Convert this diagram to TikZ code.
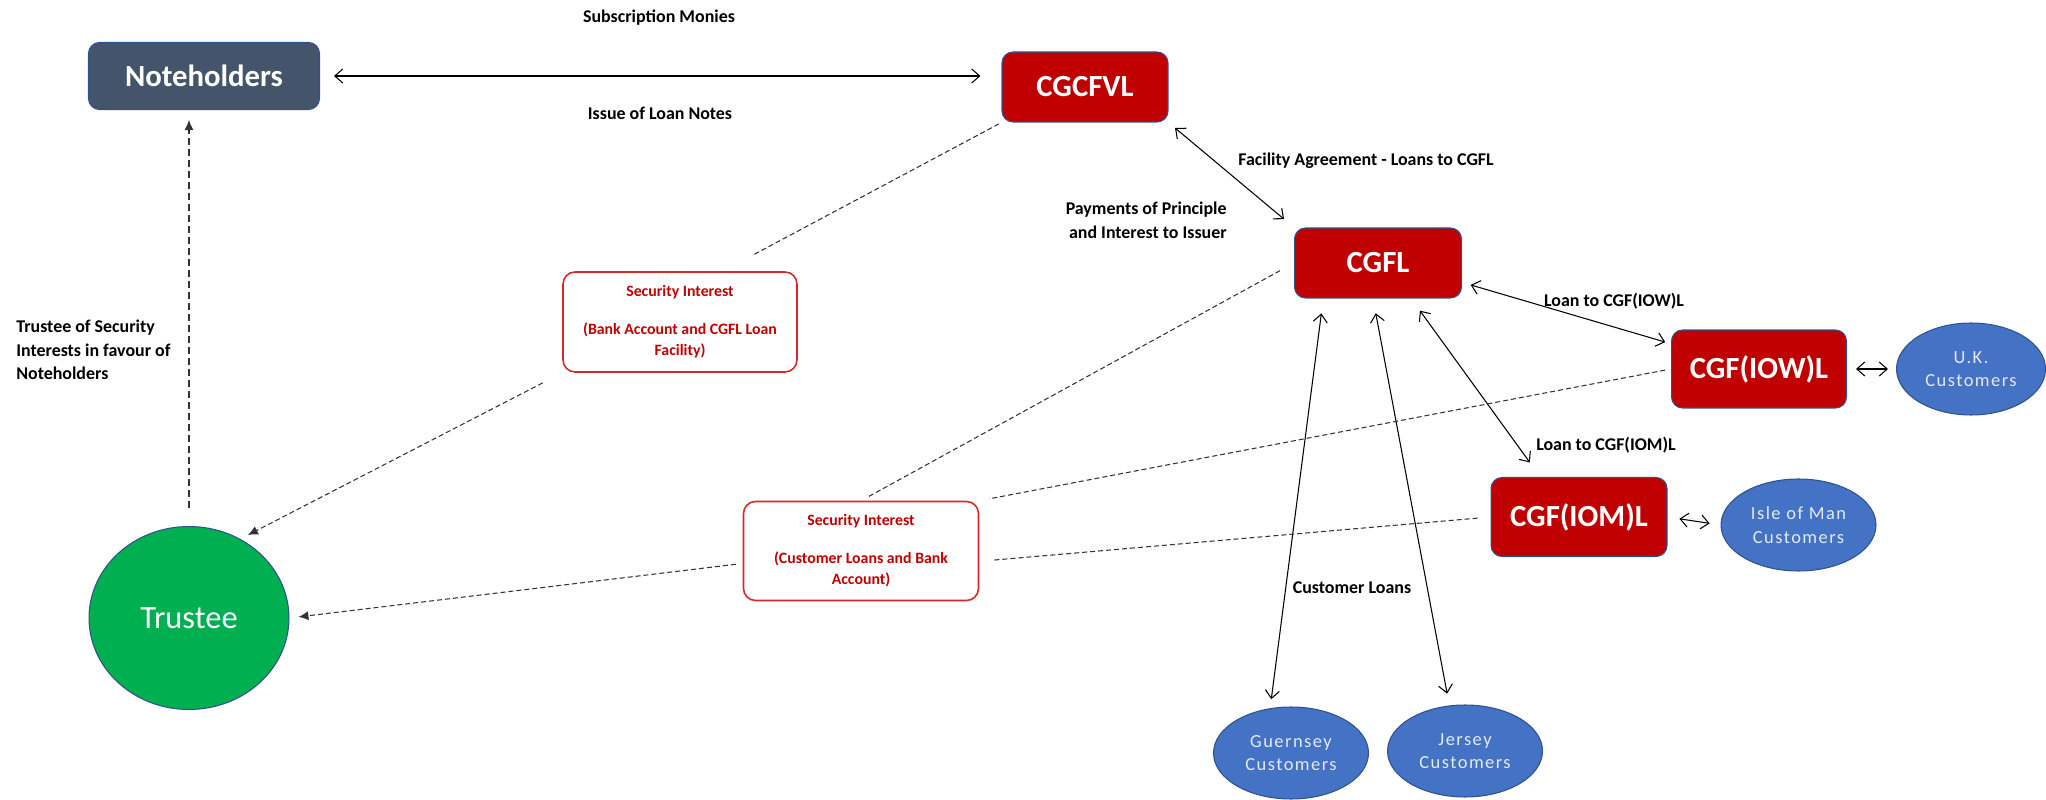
\documentclass[tikz,border=0pt]{standalone}
\usepackage{fontspec}
\setmainfont{Carlito}
\newfontfamily\custfont[LetterSpace=8]{Carlito}
\usetikzlibrary{positioning}
\usetikzlibrary{arrows.meta}
\usetikzlibrary{shapes.geometric}
\definecolor{noteslate}{HTML}{44546A}
\definecolor{entred}{HTML}{C00000}
\definecolor{custblue}{HTML}{4472C4}
\definecolor{custedge}{HTML}{2F528F}
\definecolor{custtext}{HTML}{E4EAF6}
\definecolor{trustgreen}{HTML}{00B050}
\definecolor{secred}{HTML}{D62828}

\begin{document}
\begin{tikzpicture}[x=0.02cm, y=-0.02cm,
        >={Straight Barb[length=0.16cm, width=0.28cm]},
        entity/.style={draw=custedge, line width=0.6pt, fill=entred, rounded corners=0.22cm, text=white, font=\bfseries\fontsize{17.5}{20}\selectfont},
        customers/.style={ellipse, draw=custedge, line width=0.6pt, fill=custblue, text=custtext, align=center, inner sep=0pt, font=\custfont\fontsize{10.5}{13.3}\selectfont},
        security/.style={draw=secred, line width=0.9pt, fill=white, rounded corners=0.24cm, text=entred, align=center, font=\bfseries\fontsize{9}{11.9}\selectfont},
        lbl/.style={font=\bfseries\fontsize{10.2}{13.5}\selectfont, inner sep=0pt},
        link/.style={<->, line width=0.6pt},
        pledge/.style={line width=0.6pt, black!80, dash pattern=on 0.1cm off 0.06cm},
        pledgearrow/.style={pledge, -{Latex[length=0.2cm, width=0.18cm]}}]
    \useasboundingbox (0,0) rectangle (2046,800);

    % parties
    \node [entity, fill=noteslate, minimum width=4.62cm, minimum height=1.34cm] (note) at (204,76) {Noteholders};
    \node [entity, minimum width=3.32cm, minimum height=1.4cm] (cgcfvl) at (1085,87) {CGCFVL};
    \node [entity, minimum width=3.34cm, minimum height=1.4cm] (cgfl) at (1378,263) {CGFL};
    \node [entity, minimum width=3.5cm, minimum height=1.56cm] (iow) at (1759,369) {CGF(IOW)L};
    \node [entity, minimum width=3.52cm, minimum height=1.58cm] (iom) at (1579,517) {CGF(IOM)L};
    \node [ellipse, draw=custedge, line width=0.6pt, fill=trustgreen, text=white, minimum width=4.0cm, minimum height=3.66cm, font=\fontsize{18.5}{20}\selectfont] (trus) at (189,618) {Trustee};

    % customers
    \node [customers, minimum width=2.98cm, minimum height=1.84cm, right=0.98cm of iow] (uk) {U.K.\\Customers};
    \node [customers, minimum width=3.1cm, minimum height=1.84cm, right=1.06cm of iom, yshift=-0.16cm] (iomc) {Isle of Man\\Customers};
    \node [customers, minimum width=3.1cm, minimum height=1.84cm] (gue) at (1291,753) {Guernsey\\Customers};
    \node [customers, minimum width=3.1cm, minimum height=1.84cm, right=0.36cm of gue, yshift=0.04cm] (jer) {Jersey\\Customers};

    % security boxes
    \node [security, minimum width=4.68cm, minimum height=2.0cm] (si1) at (680,322) {Security Interest\\[0.34cm](Bank Account and CGFL Loan\\Facility)};
    \node [security, minimum width=4.7cm, minimum height=1.98cm] (si2) at (861,551) {Security Interest\\[0.34cm](Customer Loans and Bank\\Account)};

    % labels
    \node [lbl] (subs) at (659,18) {Subscription Monies};
    \node [lbl] (issue) at (660,113) {Issue of Loan Notes};
    \node [lbl] (facility) at (1366,161) {Facility Agreement - Loans to CGFL};
    \node [lbl, align=right, anchor=east] (pay) at (1227,220) {Payments of Principle\\and Interest to Issuer};
    \node [lbl] (loaniow) at (1614,301) {Loan to CGF(IOW)L};
    \node [lbl] (loaniom) at (1606,445) {Loan to CGF(IOM)L};
    \node [lbl] (custloans) at (1352,588) {Customer Loans};
    \node [lbl, align=left, anchor=west] (trlabel) at (16,350) {Trustee of Security\\Interests in favour of\\Noteholders};

    % money flows
    \draw [link, shorten <=0.28cm, shorten >=0.42cm] (note.east) -- (note.east -| cgcfvl.west);
    \draw [link, shorten <=0.17cm, shorten >=0.26cm] (cgcfvl.south east) -- (cgfl.north west);
    \draw [link, shorten <=0.18cm, shorten >=0.12cm] (cgfl.-13) -- (iow.164);
    \draw [link, shorten <=0.3cm, shorten >=0.36cm] (cgfl.-47) -- (iom.134);
    \draw [link, shorten <=0.3cm, shorten >=0.18cm] (cgfl.-147) -- (gue.115);
    \draw [link, shorten <=0.3cm, shorten >=0.24cm] (cgfl.-98) -- (jer.109);
    \draw [link, shorten <=0.18cm, shorten >=0.16cm] (iow.east) -- (uk.west);
    \draw [link, shorten <=0.24cm, shorten >=0.22cm] (iom.east) -- (iomc.west);

    % security
    \draw [pledge, shorten <=0.06cm, shorten >=0.72cm] (cgcfvl.south west) -- (si1.50);
    \draw [pledgearrow, shorten <=0.44cm, shorten >=0.17cm] (si1.south west) -- (trus.57);
    \draw [pledge, shorten <=0.32cm, shorten >=0.16cm] (cgfl.west) -- (si2.north);
    \draw [pledge, shorten <=0.12cm, shorten >=0.2cm] (iow.west) -- (si2.north east);
    \draw [pledge, shorten <=0.26cm, shorten >=0.28cm] (iom.west) -- (si2.-5);
    \draw [pledgearrow, shorten <=0.14cm, shorten >=0.18cm] (si2.186) -- (trus.east);
    \draw [pledgearrow, dash pattern=on 0.14cm off 0.08cm, shorten <=0.36cm, shorten >=0.2cm] (trus.north) -- (trus.north |- note.south);
\end{tikzpicture}
\end{document}
